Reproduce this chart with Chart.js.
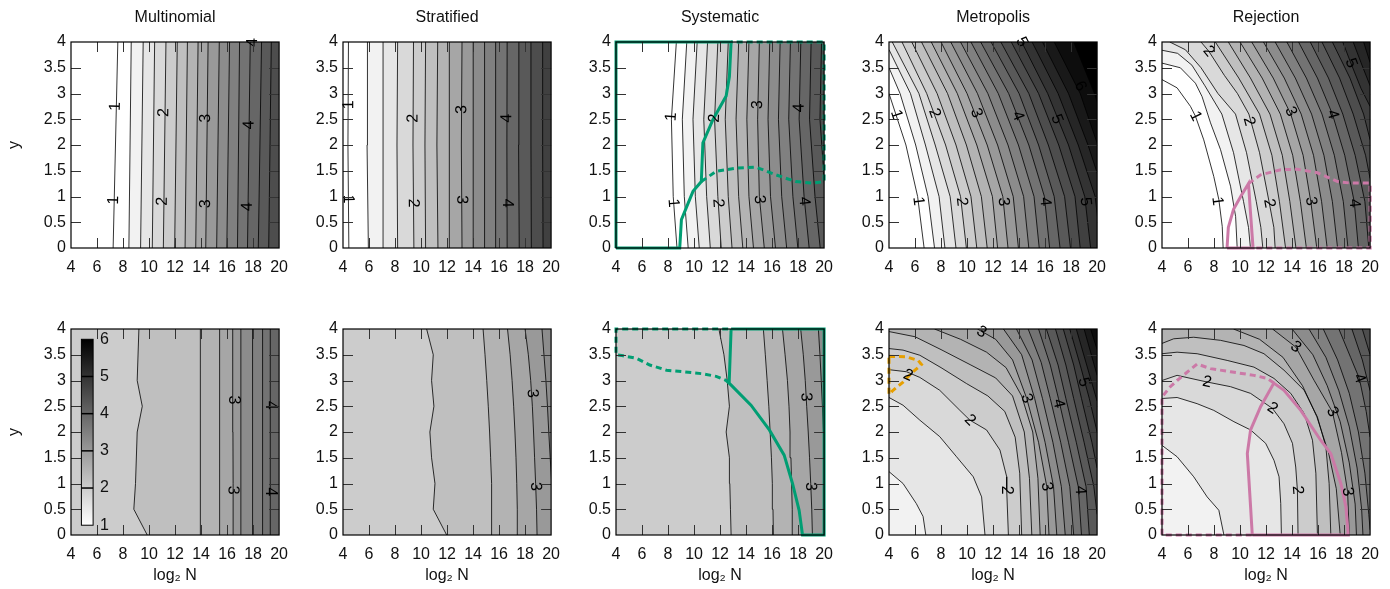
<!DOCTYPE html>
<html>
<head>
<meta charset="utf-8">
<script src="https://cdn.jsdelivr.net/npm/chart.js@4.4.1/dist/chart.umd.min.js"></script>
<style>
  html, body { margin: 0; padding: 0; background: #fff; width: 1390px; height: 589px; overflow: hidden; }
  canvas { position: absolute; }
</style>
</head>
<body>
<script>
// ---- data ----
const panelTitles = ['Multinomial', 'Stratified', 'Systematic', 'Metropolis', 'Rejection'];
const colorbarTicks = [1, 2, 3, 4, 5, 6];

// Multinomial, top: near-vertical contours, x at y = 0 and y = 4
const multTopY = [0, 4];
const multTopLevels = [1, 1.25, 1.5, 1.75, 2, 2.25, 2.5, 2.75, 3, 3.25, 3.5, 3.75, 4, 4.25, 4.5];
const multTopX = [[7.24, 7.6], [8.45, 8.63], [9.35, 9.55], [10.25, 10.43], [11.1, 11.3], [11.97, 12.17],
  [12.77, 12.95], [13.59, 13.77], [14.36, 14.54], [15.2, 15.4], [15.98, 16.19], [16.8, 16.96],
  [17.57, 17.78], [18.4, 18.65], [19.2, 19.4]];
const multTopLabels = [['1', 7.42, 2.75], ['1', 7.29, 0.93], ['2', 11.15, 2.63], ['2', 11.02, 0.91],
  ['3', 14.36, 2.52], ['3', 14.36, 0.86], ['4', 17.7, 2.39], ['4', 17.57, 0.8], ['4', 17.96, 3.99]];

// Stratified, top
const stratTopY = [0, 2, 4];
const stratTopLevels = [1, 1.25, 1.5, 1.75, 2, 2.25, 2.5, 2.75, 3, 3.25, 3.5, 3.75, 4, 4.25, 4.5, 4.75];
const stratTopX = [[4.45, 4.38, 4.42], [5.95, 5.85, 5.88], [7.1, 7.08, 7.08], [8.2, 8.15, 8.2],
  [9.45, 9.38, 9.42], [10.35, 10.3, 10.35], [11.3, 11.22, 11.28], [12.2, 12.15, 12.2],
  [13.15, 13.1, 13.15], [14.05, 14.0, 14.02], [14.9, 14.87, 14.9], [15.75, 15.72, 15.75],
  [16.62, 16.6, 16.62], [17.55, 17.5, 17.52], [18.48, 18.45, 18.45], [19.38, 19.35, 19.35]];
const stratTopLabels = [['1', 4.46, 2.78], ['1', 4.39, 0.95], ['2', 9.4, 2.52], ['2', 9.4, 0.87],
  ['3', 13.13, 2.69], ['3', 13.13, 0.94], ['4', 16.6, 2.52], ['4', 16.65, 0.87]];

// Systematic, top
const sysTopY = [0, 1, 2.5, 4];
const sysTopLevels = [1, 1.25, 1.5, 1.75, 2, 2.25, 2.5, 2.75, 3, 3.25, 3.5, 3.75, 4, 4.25, 4.5];
const sysTopX = [[8.69, 8.4, 8.26, 8.64], [9.55, 9.25, 9.1, 9.44], [10.4, 10.1, 9.92, 10.24],
  [11.25, 10.97, 10.75, 11.04], [12.09, 11.83, 11.58, 11.83], [12.92, 12.63, 12.4, 12.63],
  [13.75, 13.43, 13.23, 13.43], [14.57, 14.22, 14.06, 14.22], [15.4, 15.02, 14.89, 15.02],
  [16.26, 15.88, 15.69, 15.82], [17.12, 16.74, 16.49, 16.62], [17.98, 17.6, 17.28, 17.41],
  [18.85, 18.46, 18.08, 18.21], [19.7, 19.3, 18.88, 19.0], [20.5, 20.1, 19.68, 19.8]];
const sysTopLabels = [['1', 8.26, 2.55], ['1', 8.39, 0.87], ['2', 11.58, 2.52], ['2', 11.83, 0.87],
  ['3', 14.89, 2.78], ['3', 15.02, 0.94], ['4', 18.08, 2.72], ['4', 18.46, 0.91]];
const sysTopSolid = [[4, 0], [8.9, 0], [9.03, 0.55], [9.92, 1.1], [10.56, 1.29], [10.68, 2.04],
  [11.45, 2.49], [12.47, 2.95], [12.72, 3.33], [12.85, 4], [4, 4], [4, 0]];
const sysTopDashed = [[10.56, 1.29], [11.7, 1.49], [13.2, 1.55], [14.77, 1.57], [16.3, 1.42],
  [17.8, 1.29], [19.1, 1.26], [20, 1.29], [20, 4], [12.85, 4]];

// Metropolis, top
const metroTopLevels = [1, 1.25, 1.5, 1.75, 2, 2.25, 2.5, 2.75, 3, 3.25, 3.5, 3.75, 4, 4.25, 4.5, 4.75,
  5, 5.25, 5.5, 5.75, 6];
const metroTopLines = [
  [[4, 3], [5.3, 2], [6.2, 1], [6.7, 0]],
  [[4, 3.5], [4.85, 3], [6.05, 2], [7.0, 1], [7.5, 0]],
  [[4, 3.85], [5.65, 3], [6.8, 2], [7.85, 1], [8.3, 0]],
  [[4.25, 4], [6.3, 3], [7.55, 2], [8.7, 1], [9.15, 0]],
  [[5.0, 4], [6.9, 3], [8.35, 2], [9.5, 1], [9.95, 0]],
  [[5.75, 4], [7.7, 3], [9.15, 2], [10.3, 1], [10.75, 0]],
  [[6.5, 4], [8.5, 3], [9.95, 2], [11.1, 1], [11.55, 0]],
  [[7.25, 4], [9.25, 3], [10.75, 2], [11.95, 1], [12.35, 0]],
  [[8.0, 4], [10.0, 3], [11.55, 2], [12.75, 1], [13.15, 0]],
  [[8.75, 4], [10.8, 3], [12.35, 2], [13.55, 1], [13.95, 0]],
  [[9.5, 4], [11.6, 3], [13.15, 2], [14.35, 1], [14.75, 0]],
  [[10.3, 4], [12.4, 3], [13.95, 2], [15.15, 1], [15.55, 0]],
  [[11.05, 4], [13.2, 3], [14.75, 2], [15.95, 1], [16.35, 0]],
  [[11.85, 4], [14.0, 3], [15.5, 2], [16.7, 1], [17.15, 0]],
  [[12.6, 4], [14.75, 3], [16.25, 2], [17.5, 1], [17.95, 0]],
  [[13.4, 4], [15.5, 3], [17.05, 2], [18.3, 1], [18.7, 0]],
  [[14.2, 4], [16.2, 3], [17.8, 2], [19.05, 1], [19.5, 0]],
  [[15.0, 4], [17.0, 3], [18.55, 2], [19.85, 1], [20.3, 0]],
  [[15.8, 4], [17.8, 3], [19.3, 2], [20.6, 1]],
  [[16.7, 4], [18.7, 3], [20.05, 2]],
  [[18.2, 4], [19.8, 3], [20.3, 2.6]]
];
const metroTopLabels = [['1', 4.57, 2.59], ['1', 6.24, 0.91], ['2', 7.5, 2.62], ['2', 9.58, 0.9],
  ['3', 10.7, 2.62], ['3', 12.8, 0.9], ['4', 13.9, 2.56], ['4', 16.0, 0.9], ['5', 14.2, 4.0],
  ['5', 16.9, 2.5], ['5', 19.1, 0.9], ['6', 18.7, 3.14]];

// Rejection, top
const rejTopLevels = [1, 1.25, 1.5, 1.75, 2, 2.25, 2.5, 2.75, 3, 3.25, 3.5, 3.75, 4, 4.25, 4.5, 4.75,
  5, 5.25, 5.5];
const rejTopLines = [
  [[4, 3.27], [5.16, 3.11], [6.19, 2.75], [6.57, 2.56], [7.21, 2.1], [7.98, 1.39], [8.37, 0.94], [8.63, 0.42], [8.7, 0]],
  [[4, 3.59], [5.41, 3.5], [6.57, 3.2], [7.08, 2.94], [7.73, 2.43], [8.5, 1.91], [9.27, 1.2], [9.66, 0.61], [9.78, 0]],
  [[4, 3.84], [5.2, 3.78], [6.3, 3.55], [7.3, 3.15], [8.6, 2.6], [9.5, 1.85], [10.27, 0.9], [10.65, 0.4], [10.8, 0]],
  [[4.6, 4], [5.8, 3.85], [7.0, 3.5], [8.3, 3.0], [9.65, 2.6], [10.5, 1.85], [11.25, 0.9], [11.6, 0.4], [11.75, 0]],
  [[7.0, 4], [7.6, 3.82], [8.8, 3.35], [9.8, 3.0], [10.68, 2.6], [11.5, 1.85], [12.23, 0.9], [12.6, 0.4], [12.7, 0]],
  [[8.1, 4], [9.9, 3.3], [11.5, 2.6], [12.45, 1.8], [13.03, 0.9], [13.5, 0]],
  [[9.1, 4], [10.8, 3.3], [12.3, 2.6], [13.25, 1.8], [13.83, 0.9], [14.3, 0]],
  [[10.0, 4], [11.7, 3.3], [13.1, 2.6], [14.05, 1.8], [14.64, 0.9], [15.1, 0]],
  [[10.9, 4], [12.55, 3.3], [13.9, 2.6], [14.85, 1.8], [15.44, 0.9], [15.9, 0]],
  [[11.8, 4], [13.4, 3.3], [14.7, 2.6], [15.65, 1.8], [16.27, 0.9], [16.7, 0]],
  [[12.7, 4], [14.25, 3.3], [15.5, 2.6], [16.45, 1.8], [17.1, 0.9], [17.5, 0]],
  [[13.6, 4], [15.1, 3.3], [16.3, 2.6], [17.25, 1.8], [17.94, 0.9], [18.3, 0]],
  [[14.5, 4], [15.95, 3.3], [17.1, 2.6], [18.05, 1.8], [18.78, 0.9], [19.1, 0]],
  [[15.4, 4], [16.8, 3.3], [17.9, 2.6], [18.85, 1.8], [19.6, 0.9], [19.9, 0]],
  [[16.3, 4], [17.65, 3.3], [18.7, 2.6], [19.65, 1.8], [20, 1.35]],
  [[17.1, 4], [18.45, 3.3], [19.5, 2.6], [20, 2.1]],
  [[17.9, 4], [18.52, 3.59], [19.3, 3.1], [20, 2.75]],
  [[18.7, 4], [19.3, 3.6], [20, 3.15]],
  [[19.5, 4], [20, 3.6]]
];
const rejTopLabels = [['1', 6.57, 2.56], ['1', 8.24, 0.91], ['2', 7.6, 3.82], ['2', 10.68, 2.46],
  ['2', 12.23, 0.87], ['3', 13.9, 2.65], ['3', 15.44, 0.91], ['4', 17.1, 2.59], ['4', 18.78, 0.87],
  ['5', 18.52, 3.59]];
const rejTopSolid = [[9.0, 0], [9.1, 0.4], [9.5, 0.75], [10.05, 1.0], [10.65, 1.25], [10.8, 0.7], [11.0, 0], [9.0, 0]];
const rejTopDashed = [[10.65, 1.25], [11.58, 1.42], [13.13, 1.52], [14.4, 1.53], [15.95, 1.46],
  [17.5, 1.29], [18.52, 1.26], [20, 1.26], [20, 0], [11.0, 0]];

// Multinomial, bottom
const multBotY = [0, 0.5, 1, 2, 2.5, 3, 4];
const multBotLevels = [2.25, 2.5, 2.75, 3, 3.25, 3.5, 3.75, 4];
const multBotX = [[9.86, 8.83, 8.96, 9.09, 9.48, 9.09, 9.22],
  [13.92, 13.92, 13.93, 13.94, 13.95, 13.96, 13.97],
  [15.44, 15.44, 15.44, 15.43, 15.43, 15.42, 15.4],
  [16.47, 16.47, 16.46, 16.45, 16.44, 16.44, 16.42],
  [17.06, 17.06, 17.06, 17.06, 17.06, 17.06, 17.06],
  [17.96, 17.96, 17.96, 17.96, 17.96, 17.96, 17.96],
  [18.73, 18.73, 18.73, 18.73, 18.73, 18.73, 18.73],
  [19.32, 19.32, 19.32, 19.32, 19.32, 19.32, 19.32]];
const multBotLabels = [['3', 16.45, 2.62], ['3', 16.45, 0.87], ['4', 19.32, 2.52], ['4', 19.32, 0.84]];

// Stratified, bottom
const stratBotY = [0, 0.5, 1, 1.5, 2, 2.5, 3, 3.5, 4];
const stratBotLevels = [2.25, 2.5, 2.75, 3, 3.25];
const stratBotX = [[11.97, 10.94, 11.07, 10.81, 10.68, 10.99, 10.81, 10.94, 10.43],
  [15.45, 15.44, 15.41, 15.35, 15.27, 15.17, 15.05, 14.92, 14.77],
  [17.42, 17.4, 17.36, 17.3, 17.22, 17.12, 17.0, 16.85, 16.65],
  [18.92, 18.88, 18.81, 18.73, 18.65, 18.56, 18.43, 18.25, 18.0],
  [20.2, 20.15, 20.05, 19.93, 19.82, 19.72, 19.6, 19.45, 19.3]];
const stratBotLabels = [['3', 18.55, 2.75], ['3', 18.8, 0.94]];

// Systematic, bottom
const sysBotY = [0, 0.5, 1, 1.5, 2, 2.5, 3, 3.5, 4];
const sysBotLevels = [2.25, 2.5, 2.75, 3, 3.25];
const sysBotX = [[12.85, 12.8, 12.75, 12.72, 12.47, 12.72, 12.55, 12.3, 11.91],
  [16.1, 16.07, 16.02, 15.95, 15.85, 15.75, 15.62, 15.48, 15.33],
  [17.58, 17.55, 17.5, 17.45, 17.38, 17.3, 17.18, 17.0, 16.8],
  [19.1, 19.05, 18.97, 18.88, 18.78, 18.66, 18.55, 18.4, 18.2],
  [20.25, 20.2, 20.12, 20.03, 19.95, 19.87, 19.78, 19.68, 19.56]];
const sysBotLabels = [['3', 18.6, 2.68], ['3', 18.97, 0.94]];
const sysBotSolid = [[12.85, 4], [12.7, 2.95], [14.38, 2.52], [15.79, 2.04], [16.93, 1.55], [17.57, 1.0],
  [18.08, 0.48], [18.34, 0], [20, 0], [20, 4], [12.85, 4]];
const sysBotDashed = [[12.7, 2.95], [12.47, 3.0], [11.7, 3.08], [10.68, 3.13], [9.15, 3.17], [7.88, 3.2],
  [6.6, 3.3], [5.58, 3.43], [4.56, 3.48], [4, 3.5], [4, 4], [12.85, 4]];

// Metropolis, bottom
const metroBotLevels = [1.5, 1.75, 2, 2.25, 2.5, 2.75, 3, 3.25, 3.5, 3.75, 4, 4.25, 4.5, 4.75, 5, 5.25, 5.5, 5.75];
const metroBotLines = [
  [[4, 1.23], [5.08, 1.0], [6.1, 0.61], [6.62, 0.36], [6.83, 0]],
  [[4, 2.67], [5.08, 2.52], [6.37, 2.23], [7.9, 1.91], [9.19, 1.52], [10.48, 1.13], [11.12, 0.74], [11.38, 0]],
  [[4, 3.21], [5.34, 3.17], [6.37, 3.06], [7.9, 2.81], [9.45, 2.42], [10.22, 2.23], [11.5, 2.04], [12.53, 1.65], [13.05, 1.13], [13.05, 0.87], [13.18, 0]],
  [[4, 3.62], [5.08, 3.59], [6.37, 3.49], [8.0, 3.25], [9.96, 2.94], [11.6, 2.7], [12.9, 2.4], [13.7, 1.9], [14.05, 1.2], [14.2, 0]],
  [[4, 3.95], [6.0, 3.85], [8.0, 3.6], [10.3, 3.3], [12.2, 3.05], [13.5, 2.7], [14.4, 2.0], [14.8, 1.1], [14.98, 0]],
  [[7.5, 4], [9.5, 3.8], [11.5, 3.55], [13.0, 3.25], [14.2, 2.7], [15.05, 2.0], [15.45, 1.1], [15.62, 0]],
  [[10.8, 4], [12.2, 3.8], [13.5, 3.4], [14.59, 2.65], [15.5, 1.8], [16.13, 0.94], [16.3, 0]],
  [[12.8, 4], [14.2, 3.5], [15.2, 2.65], [16.0, 1.8], [16.65, 0.94], [16.9, 0]],
  [[13.8, 4], [15.0, 3.4], [15.8, 2.65], [16.6, 1.8], [17.25, 0.94], [17.55, 0]],
  [[14.7, 4], [15.7, 3.35], [16.4, 2.65], [17.2, 1.8], [17.9, 0.94], [18.2, 0]],
  [[15.5, 4], [16.4, 3.3], [17.03, 2.65], [17.8, 1.8], [18.55, 0.94], [18.8, 0]],
  [[16.1, 4], [17.0, 3.3], [17.6, 2.65], [18.4, 1.8], [19.15, 0.94], [19.4, 0]],
  [[16.8, 4], [17.6, 3.3], [18.2, 2.65], [19.0, 1.8], [19.75, 0.94], [20, 0.4]],
  [[17.4, 4], [18.2, 3.3], [18.8, 2.65], [19.6, 1.8], [20, 1.3]],
  [[17.9, 4], [18.7, 3.3], [19.4, 2.65], [20, 2.0]],
  [[18.4, 4], [19.2, 3.3], [20, 2.6]],
  [[19.0, 4], [20, 3.1]],
  [[19.5, 4], [20, 3.6]]
];
const metroBotLabels = [['2', 5.47, 3.1], ['2', 10.22, 2.23], ['2', 13.05, 0.87], ['3', 11.12, 3.94],
  ['3', 14.59, 2.65], ['3', 16.13, 0.94], ['4', 17.03, 2.55], ['4', 18.7, 0.87], ['5', 18.96, 2.97]];
const metroBotDashed = [[4, 3.47], [5.34, 3.46], [6.24, 3.39], [6.5, 3.31], [5.85, 3.17], [5.08, 2.97],
  [4.31, 2.81], [4, 2.73], [4, 3.47]];

// Rejection, bottom
const rejBotLevels = [1.5, 1.75, 2, 2.25, 2.5, 2.75, 3, 3.25, 3.5, 3.75, 4, 4.25, 4.5];
const rejBotLines = [
  [[4, 1.74], [5.16, 1.52], [6.44, 1.13], [7.47, 0.74], [8.37, 0.48], [8.76, 0]],
  [[4, 2.65], [5.16, 2.67], [6.7, 2.55], [7.98, 2.42], [9.53, 2.2], [10.81, 2.04], [11.97, 1.78], [12.61, 1.45], [13.0, 1.13], [13.13, 0.61], [13.18, 0]],
  [[4, 3.0], [5.16, 3.1], [7.47, 2.97], [9.27, 2.88], [10.81, 2.75], [12.48, 2.46], [13.38, 2.16], [14.03, 1.78], [14.28, 1.32], [14.41, 0.87], [14.46, 0]],
  [[4, 3.52], [5.16, 3.55], [6.7, 3.52], [9.01, 3.39], [11.07, 3.26], [12.61, 3.04], [13.9, 2.75], [14.93, 2.36], [15.57, 1.84], [15.83, 1.2], [15.95, 0]],
  [[4, 3.72], [4.9, 3.81], [6.44, 3.84], [8.5, 3.78], [10.3, 3.68], [11.84, 3.52], [13.38, 3.2], [14.93, 2.81], [15.95, 2.29], [16.6, 1.71], [16.85, 1.0], [16.98, 0]],
  [[9.5, 4], [11.5, 3.8], [13.3, 3.45], [14.8, 2.9], [15.9, 2.3], [16.8, 1.6], [17.4, 0.9], [17.7, 0]],
  [[12.5, 4], [14.28, 3.65], [15.7, 3.0], [17.1, 2.39], [17.8, 1.6], [18.27, 0.84], [18.4, 0]],
  [[14.0, 4], [15.6, 3.5], [16.7, 2.9], [17.7, 2.2], [18.4, 1.4], [18.85, 0.6], [18.95, 0]],
  [[15.3, 4], [16.6, 3.45], [17.6, 2.8], [18.4, 2.1], [19.0, 1.3], [19.35, 0.5], [19.45, 0]],
  [[16.4, 4], [17.5, 3.4], [18.4, 2.75], [19.1, 2.0], [19.6, 1.2], [19.9, 0.4], [20, 0.1]],
  [[17.6, 4], [18.5, 3.45], [19.17, 3.04], [19.7, 2.4], [20, 1.9]],
  [[18.6, 4], [19.4, 3.4], [20, 2.8]],
  [[19.4, 4], [20, 3.5]]
];
const rejBotLabels = [['2', 7.47, 2.97], ['2', 12.48, 2.46], ['2', 14.41, 0.87], ['3', 14.28, 3.65],
  ['3', 17.1, 2.39], ['3', 18.27, 0.84], ['4', 19.17, 3.04]];
const rejBotSolid = [[10.94, 0], [10.81, 0.55], [10.56, 1.58], [10.81, 2.04], [11.58, 2.49], [12.6, 2.95],
  [13.38, 2.81], [14.67, 2.42], [16.2, 1.84], [16.98, 1.58], [17.75, 1.0], [18.14, 0.55], [18.32, 0], [10.94, 0]];
const rejBotDashed = [[12.6, 2.95], [12.1, 3.04], [11.07, 3.1], [9.27, 3.17], [7.73, 3.23], [6.7, 3.32],
  [5.16, 3.0], [4.64, 2.88], [4, 2.68], [4, 0], [10.94, 0]];

// ---- layout & style ----
const FONT = "'Liberation Sans', Arial, Helvetica, sans-serif";
const GREEN = '#009E73', PINK = '#CC79A7', ORANGE = '#E69F00';
const plotLefts = [71, 343, 616, 889, 1162];
const AXIS_W = 71, CANVAS_R = 20, TICK = 10;

Chart.defaults.font.family = FONT;
Chart.defaults.font.size = 16;
Chart.defaults.color = '#111';

function gray(level) {
  const v = Math.round(Math.max(0, Math.min(255, 255 * (1 - (level - 1) / 5))));
  return `rgb(${v},${v},${v})`;
}
const fromColumns = (xs, ys) => xs.map(row => row.map((v, i) => ({x: v, y: ys[i]})));
const fromPairs = lines => lines.map(l => l.map(([x, y]) => ({x, y})));

// which edge of the [4,20]x[0,4] box a contour end sits on, walked counter-clockwise
function edgeInfo(p) {
  const d = [p.y, 20 - p.x, 4 - p.y, p.x - 4];
  let k = 0;
  for (let i = 1; i < 4; i++) if (d[i] < d[k]) k = i;
  if (k === 0) return {t: p.x - 4, out: {x: p.x, y: -1}};
  if (k === 1) return {t: 16 + p.y, out: {x: 21, y: p.y}};
  if (k === 2) return {t: 20 + (20 - p.x), out: {x: p.x, y: 5}};
  return {t: 36 + (4 - p.y), out: {x: 3, y: p.y}};
}
const outerCorners = [{t: 16, x: 21, y: -1}, {t: 20, x: 21, y: 5}, {t: 36, x: 3, y: 5}];

// polygon of the side of a contour facing the upper right (higher values)
function highSide(pts) {
  let a = edgeInfo(pts[0]), b = edgeInfo(pts[pts.length - 1]);
  let seq = pts;
  if (a.t < b.t) { seq = pts.slice().reverse(); [a, b] = [b, a]; }
  const poly = seq.slice();
  poly.push(b.out);
  outerCorners.forEach(c => { if (c.t > b.t && c.t < a.t) poly.push(c); });
  poly.push(a.out);
  return poly;
}

const panels = [
  {row: 0, col: 0, levels: multTopLevels, lines: fromColumns(multTopX, multTopY), labels: multTopLabels},
  {row: 0, col: 1, levels: stratTopLevels, lines: fromColumns(stratTopX, stratTopY), labels: stratTopLabels},
  {row: 0, col: 2, levels: sysTopLevels, lines: fromColumns(sysTopX, sysTopY), labels: sysTopLabels,
    overlays: [{pts: sysTopSolid, color: GREEN}, {pts: sysTopDashed, color: GREEN, dash: true}]},
  {row: 0, col: 3, levels: metroTopLevels, lines: fromPairs(metroTopLines), labels: metroTopLabels},
  {row: 0, col: 4, levels: rejTopLevels, lines: fromPairs(rejTopLines), labels: rejTopLabels,
    overlays: [{pts: rejTopSolid, color: PINK}, {pts: rejTopDashed, color: PINK, dash: true}]},
  {row: 1, col: 0, levels: multBotLevels, lines: fromColumns(multBotX, multBotY), labels: multBotLabels, colorbar: true},
  {row: 1, col: 1, levels: stratBotLevels, lines: fromColumns(stratBotX, stratBotY), labels: stratBotLabels},
  {row: 1, col: 2, levels: sysBotLevels, lines: fromColumns(sysBotX, sysBotY), labels: sysBotLabels,
    overlays: [{pts: sysBotSolid, color: GREEN}, {pts: sysBotDashed, color: GREEN, dash: true}]},
  {row: 1, col: 3, levels: metroBotLevels, lines: fromPairs(metroBotLines), labels: metroBotLabels,
    overlays: [{pts: metroBotDashed, color: ORANGE, dash: true}]},
  {row: 1, col: 4, levels: rejBotLevels, lines: fromPairs(rejBotLines), labels: rejBotLabels,
    overlays: [{pts: rejBotSolid, color: PINK}, {pts: rejBotDashed, color: PINK, dash: true}]}
];

function labelAngle(lines, px, py, xs, ys) {
  let best = Infinity, ang = 0;
  lines.forEach(pts => {
    for (let i = 0; i < pts.length - 1; i++) {
      const x1 = xs.getPixelForValue(pts[i].x), y1 = ys.getPixelForValue(pts[i].y);
      const x2 = xs.getPixelForValue(pts[i + 1].x), y2 = ys.getPixelForValue(pts[i + 1].y);
      const dx = x2 - x1, dy = y2 - y1, len2 = dx * dx + dy * dy || 1;
      const t = Math.max(0, Math.min(1, ((px - x1) * dx + (py - y1) * dy) / len2));
      const d = Math.hypot(px - x1 - t * dx, py - y1 - t * dy);
      if (d < best) { best = d; ang = Math.atan2(dy, dx); }
    }
  });
  if (ang > Math.PI / 2) ang -= Math.PI;
  if (ang <= -Math.PI / 2) ang += Math.PI;
  return ang;
}

function contourPlugin(p) {
  return {
    id: 'contours',
    beforeDatasetsDraw(chart) {
      const {ctx, chartArea: a, scales: {x, y}} = chart;
      ctx.save();
      ctx.beginPath();
      ctx.rect(a.left, a.top, a.width, a.height);
      ctx.clip();
      ctx.fillStyle = gray(p.levels[0] - 0.25);
      ctx.fillRect(a.left, a.top, a.width, a.height);
      p.lines.forEach((pts, i) => {
        ctx.beginPath();
        highSide(pts).forEach((q, k) => {
          const px = x.getPixelForValue(q.x), py = y.getPixelForValue(q.y);
          if (k) ctx.lineTo(px, py); else ctx.moveTo(px, py);
        });
        ctx.closePath();
        ctx.fillStyle = gray(p.levels[i]);
        ctx.fill();
      });
      ctx.restore();
    },
    afterDatasetsDraw(chart) {
      const {ctx, chartArea: a, scales: {x, y}} = chart;
      ctx.save();
      // contour labels
      ctx.fillStyle = '#000';
      ctx.font = `16px ${FONT}`;
      ctx.textAlign = 'center';
      ctx.textBaseline = 'middle';
      p.labels.forEach(([txt, lx, ly]) => {
        const px = x.getPixelForValue(lx), py = y.getPixelForValue(ly);
        ctx.save();
        ctx.translate(px, py);
        ctx.rotate(labelAngle(p.lines, px, py, x, y));
        ctx.fillText(txt, 0, 0);
        ctx.restore();
      });
      // inward ticks, mirrored on all sides
      ctx.strokeStyle = '#333';
      ctx.lineWidth = 1;
      ctx.beginPath();
      x.ticks.forEach(t => {
        if (t.value <= 4 || t.value >= 20) return;
        const px = Math.round(x.getPixelForValue(t.value)) + 0.5;
        ctx.moveTo(px, a.bottom); ctx.lineTo(px, a.bottom - TICK);
        ctx.moveTo(px, a.top); ctx.lineTo(px, a.top + TICK);
      });
      y.ticks.forEach(t => {
        if (t.value <= 0 || t.value >= 4) return;
        const py = Math.round(y.getPixelForValue(t.value)) + 0.5;
        ctx.moveTo(a.left, py); ctx.lineTo(a.left + TICK, py);
        ctx.moveTo(a.right, py); ctx.lineTo(a.right - TICK, py);
      });
      ctx.stroke();
      // frame
      ctx.strokeStyle = '#000';
      ctx.lineWidth = 1.2;
      ctx.strokeRect(a.left, a.top, a.width, a.height);
      // colour key
      if (p.colorbar) {
        const l = x.getPixelForValue(4.8), r = x.getPixelForValue(5.7);
        const b = y.getPixelForValue(0.19), tp = y.getPixelForValue(3.8);
        const lo = colorbarTicks[0], hi = colorbarTicks[colorbarTicks.length - 1];
        const grad = ctx.createLinearGradient(0, b, 0, tp);
        grad.addColorStop(0, gray(lo));
        grad.addColorStop(1, gray(hi));
        ctx.fillStyle = grad;
        ctx.fillRect(l, tp, r - l, b - tp);
        ctx.lineWidth = 1;
        ctx.strokeStyle = '#000';
        ctx.strokeRect(l, tp, r - l, b - tp);
        ctx.fillStyle = '#111';
        ctx.textAlign = 'left';
        colorbarTicks.forEach(v => {
          const py = b + (v - lo) / (hi - lo) * (tp - b);
          if (v > lo && v < hi) {
            ctx.lineWidth = 1.5;
            ctx.beginPath(); ctx.moveTo(l, py); ctx.lineTo(r, py); ctx.stroke();
          }
          ctx.fillText(String(v), r + 7, py);
        });
      }
      ctx.restore();
    }
  };
}

panels.forEach(p => {
  const top = p.row === 0 ? 0 : 290;
  const h = p.row === 0 ? 290 : 299;
  const w = AXIS_W + 207 + CANVAS_R;
  const canvas = document.createElement('canvas');
  canvas.width = w; canvas.height = h;
  canvas.style.width = w + 'px'; canvas.style.height = h + 'px';
  canvas.style.left = (plotLefts[p.col] - AXIS_W) + 'px';
  canvas.style.top = top + 'px';
  document.body.appendChild(canvas);

  const datasets = p.lines.map(pts => ({
    data: pts, showLine: true, borderColor: '#000', borderWidth: 0.8,
    pointRadius: 0, tension: 0, clip: 0, order: 1
  }));
  (p.overlays || []).forEach(o => datasets.push({
    data: o.pts.map(([x, y]) => ({x, y})), showLine: true, borderColor: o.color, borderWidth: 3,
    borderDash: o.dash ? [6, 4] : [], pointRadius: 0, tension: 0, clip: 3, order: 0
  }));

  new Chart(canvas, {
    type: 'scatter',
    data: {datasets},
    options: {
      responsive: false,
      animation: false,
      devicePixelRatio: 1,
      events: [],
      layout: {padding: {top: p.row === 0 ? 0 : 39, right: 0, left: 0, bottom: 0}},
      plugins: {
        legend: {display: false},
        tooltip: {enabled: false},
        title: {
          display: p.row === 0,
          fullSize: false,
          text: panelTitles[p.col],
          color: '#111',
          font: {size: 16, weight: 'normal'},
          padding: {top: 8, bottom: 14.8}
        }
      },
      scales: {
        x: {
          type: 'linear', min: 4, max: 20,
          ticks: {stepSize: 2, autoSkip: false, maxRotation: 0, minRotation: 0, padding: 10, color: '#111'},
          grid: {display: false, drawTicks: false},
          border: {display: false},
          title: {display: p.row === 1, text: 'log₂ N', color: '#111', padding: {top: 4, bottom: 4}},
          afterFit: s => { s.height = p.row === 0 ? 42 : 54; }
        },
        y: {
          type: 'linear', min: 0, max: 4,
          ticks: {stepSize: 0.5, padding: 5, color: '#111', callback: v => String(Number(v))},
          grid: {display: false, drawTicks: false},
          border: {display: false},
          title: {display: p.col === 0, text: 'y', color: '#111', padding: {top: 5, bottom: 0}},
          afterFit: s => { s.width = AXIS_W; }
        }
      }
    },
    plugins: [contourPlugin(p)]
  });
});
</script>
</body>
</html>
